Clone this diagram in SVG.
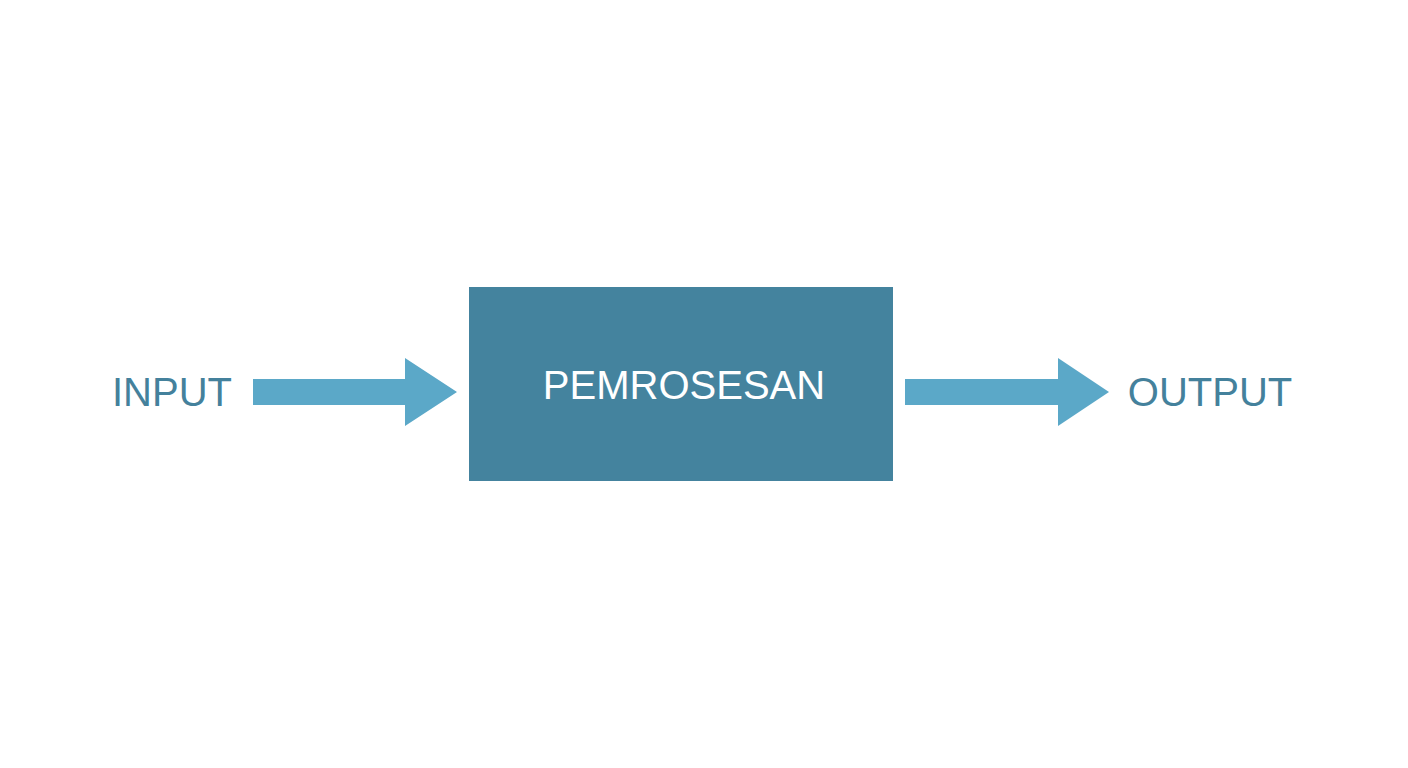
<svg xmlns="http://www.w3.org/2000/svg" width="1408" height="768" viewBox="0 0 1408 768">
<style>
.lbl{font-family:"Liberation Sans",Arial,sans-serif;font-size:40px;fill:#44819c}
.arrow{fill:#5ba8c8}
.box{fill:#44839e}
.boxlbl{font-family:"Liberation Sans",Arial,sans-serif;font-size:40px;fill:#ffffff}
</style>
<rect width="1408" height="768" fill="#ffffff"/>
<g id="input"><text class="lbl" x="172" y="406" text-anchor="middle">INPUT</text></g>
<g id="process"><rect class="box" x="469" y="287" width="424" height="194"/><text class="boxlbl" x="684" y="399" text-anchor="middle">PEMROSESAN</text></g>
<g id="output"><text class="lbl" x="1210" y="406" text-anchor="middle">OUTPUT</text></g>
<g id="connectors">
<polygon class="arrow" points="253,379 405,379 405,358 457,392 405,426 405,405 253,405"/>
<polygon class="arrow" points="905,379 1058,379 1058,358 1109,392 1058,426 1058,405 905,405"/>
</g>
</svg>
